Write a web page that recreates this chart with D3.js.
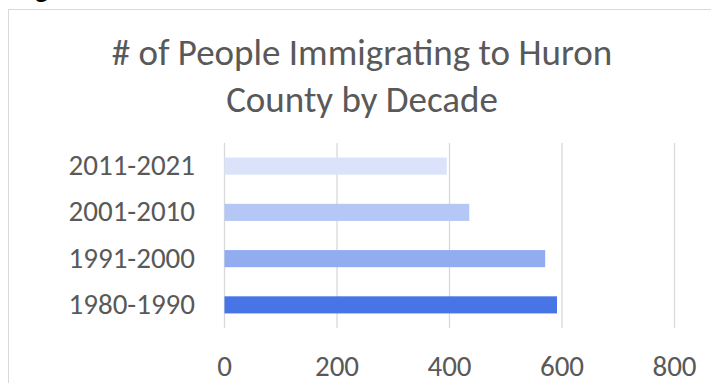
<!DOCTYPE html>
<html>
<head>
<meta charset="utf-8">
<script src="https://cdn.jsdelivr.net/npm/d3@7"></script>
<style>
  html, body { margin: 0; padding: 0; background: #fff; }
  svg { display: block; }
  text { font-family: Carlito, Calibri, Lato, sans-serif; }
</style>
</head>
<body>
<svg id="chart" width="711" height="383"></svg>
<script>
const decades = ['2011-2021', '2001-2010', '1991-2000', '1980-1990'];
const immigrants = [396, 436, 571, 592];
const barColors = ['#dae3fa', '#b4c7f5', '#91adf0', '#4775e6'];
const xTicks = [0, 200, 400, 600, 800];
const titleLines = ['# of People Immigrating to Huron', 'County by Decade'];

const svg = d3.select('#chart');
const textColor = '#595959';
const gridColor = '#d9d9d9';

// cut-off heading glyph above the chart frame
svg.append('text')
  .attr('x', 35)
  .attr('y', -2)
  .style('font-size', '28px')
  .style('font-weight', 'bold')
  .style('fill', '#000')
  .text('g');

// chart frame (runs off the right and bottom edges)
svg.append('rect')
  .attr('x', 8.5)
  .attr('y', 9.5)
  .attr('width', 720)
  .attr('height', 400)
  .attr('fill', '#fff')
  .attr('stroke', gridColor)
  .attr('stroke-width', 1);

const x = d3.scaleLinear().domain([0, 800]).range([224, 674]);
const y = d3.scaleBand()
  .domain(decades)
  .range([143, 328])
  .paddingInner(0.63)
  .paddingOuter(0.315);

// title
svg.append('g')
  .selectAll('text')
  .data(titleLines)
  .enter()
  .append('text')
  .attr('x', 362)
  .attr('y', (d, i) => 65 + i * 46.5)
  .attr('text-anchor', 'middle')
  .style('font-size', '37px')
  .style('fill', textColor)
  .text(d => d);

// vertical gridlines + tick labels
const xAxis = d3.axisBottom(x)
  .tickValues(xTicks)
  .tickSize(-(328 - 143))
  .tickFormat(d3.format('d'));

const gx = svg.append('g')
  .attr('transform', 'translate(0,328)')
  .call(xAxis);
gx.select('.domain').remove();
gx.selectAll('line').attr('stroke', gridColor).attr('stroke-width', 1.3);
gx.selectAll('text')
  .attr('y', 48)
  .attr('dy', 0)
  .style('font-size', '29px')
  .style('fill', textColor);

// bars
svg.append('g')
  .selectAll('rect')
  .data(decades)
  .enter()
  .append('rect')
  .attr('x', x(0) + 0.5)
  .attr('y', d => y(d))
  .attr('width', (d, i) => x(immigrants[i]) - x(0) - 0.5)
  .attr('height', y.bandwidth())
  .attr('fill', (d, i) => barColors[i]);

// category labels
svg.append('g')
  .selectAll('text')
  .data(decades)
  .enter()
  .append('text')
  .attr('x', 195)
  .attr('y', d => y(d) + y.bandwidth() / 2)
  .attr('dy', '0.31em')
  .attr('text-anchor', 'end')
  .style('font-size', '29px')
  .style('fill', textColor)
  .text(d => d);
</script>
</body>
</html>
